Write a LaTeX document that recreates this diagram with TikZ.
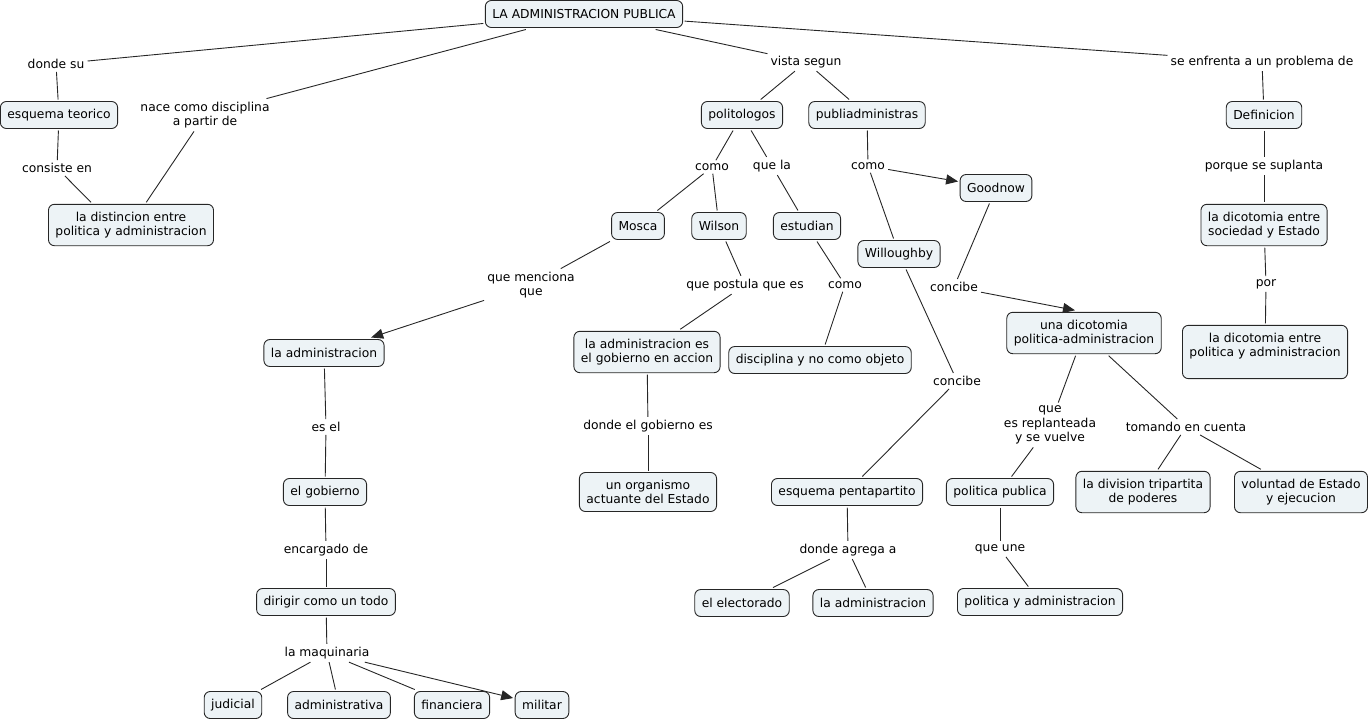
\documentclass[tikz,border=0pt]{standalone}
\usepackage{fontspec}
\setmainfont{DejaVu Sans}
\usetikzlibrary{arrows.meta}
\definecolor{cmapfill}{RGB}{237,243,246}
\tikzstyle{concept} = [draw=black!85, line width=0.9pt, fill=cmapfill, rounded corners=6pt, align=center, inner xsep=7pt, inner ysep=7.5pt, outer sep=2pt, minimum height=27pt]
\tikzstyle{link} = [align=center, inner sep=3pt]
\tikzstyle{conn} = [draw=black!85, line width=0.9pt]
\tikzstyle{arrowline} = [conn, -{Triangle[length=12pt,width=10pt]}]

\begin{document}
\begin{tikzpicture}[x=1pt, y=-1pt, font=\fontsize{12.3pt}{14.5pt}\selectfont]
    \useasboundingbox (0,0) rectangle (1370,721);
    % top row
    \node[concept] (lap) at (584,14) {LA ADMINISTRACION PUBLICA};
    \node[link] (dondesu) at (56,64) {donde su};
    \node[link] (nace) at (205,115) {nace como disciplina\\a partir de};
    \node[link] (vista) at (806,62) {vista segun};
    \node[link] (enfrenta) at (1262,62) {se enfrenta a un problema de};
    \node[concept] (esquema) at (59,115) {esquema teorico};
    \node[link] (consiste) at (57,168) {consiste en};
    \node[concept] (distincion) at (131,225) {la distincion entre\\politica y administracion};
    \node[concept] (polito) at (742,115) {politologos};
    \node[concept] (publi) at (867,115) {publiadministras};
    \node[concept] (defin) at (1264,115) {Definicion};
    \node[link] (como1) at (712,167) {como};
    \node[link] (quela) at (772,166) {que la};
    \node[link] (como2) at (868,166) {como};
    \node[link] (porque) at (1264,166) {porque se suplanta};
    % authors
    \node[concept] (mosca) at (638,226) {Mosca};
    \node[concept] (wilson) at (719,226) {Wilson};
    \node[concept] (estudian) at (807,226) {estudian};
    \node[concept] (goodnow) at (996,188) {Goodnow};
    \node[concept] (willo) at (899,254) {Willoughby};
    \node[concept] (dicsoc) at (1264,225) {la dicotomia entre\\sociedad y Estado};
    \node[link] (menciona) at (531,285) {que menciona\\que};
    \node[link] (postula) at (745,285) {que postula que es};
    \node[link] (como3) at (845,285) {como};
    \node[link] (concibe1) at (954,287) {concibe};
    \node[link] (por) at (1266,284) {por};
    \node[concept] (admin1) at (324,353) {la administracion};
    \node[concept] (accion) at (647,352) {la administracion es\\el gobierno en accion};
    \node[concept] (discip) at (820,360) {disciplina y no como objeto};
    \node[concept] (dicpol) at (1084,333) {una dicotomia\\politica-administracion};
    \node[concept] (dicright) at (1265,352) {la dicotomia entre\\politica y administracion\\~};
    \node[link] (concibe2) at (957,381) {concibe};
    \node[link] (esel) at (326,427) {es el};
    \node[link] (dondegob) at (648,426) {donde el gobierno es};
    \node[link] (replan) at (1050,425) {que\\es replanteada\\y se vuelve};
    \node[link] (tomando) at (1186,427) {tomando en cuenta};
    % lower rows
    \node[concept] (gobierno) at (325,492) {el gobierno};
    \node[concept] (organismo) at (648,492) {un organismo\\actuante del Estado};
    \node[concept] (penta) at (847,492) {esquema pentapartito};
    \node[concept] (polpub) at (1000,492) {politica publica};
    \node[concept] (tripart) at (1143,492) {la division tripartita\\de poderes};
    \node[concept] (voluntad) at (1301,492) {voluntad de Estado\\y ejecucion};
    \node[link] (encargado) at (326,550) {encargado de};
    \node[link] (agrega) at (848,550) {donde agrega a};
    \node[link] (une) at (1000,549) {que une};
    \node[concept] (dirigir) at (326,602) {dirigir como un todo};
    \node[concept] (electorado) at (742,603) {el electorado};
    \node[concept] (admin2) at (873,603) {la administracion};
    \node[concept] (polyadm) at (1040,602) {politica y administracion};
    \node[link] (maquinaria) at (327,653) {la maquinaria};
    \node[concept] (judicial) at (233,705) {judicial};
    \node[concept] (administrativa) at (339,705) {administrativa};
    \node[concept] (financiera) at (452,705) {financiera};
    \node[concept] (militar) at (542,705) {militar};
    % plain connectors
    \foreach \a/\b in {lap/dondesu, dondesu/esquema, esquema/consiste,
        lap/nace, nace/distincion, lap/vista, vista/polito, vista/publi,
        lap/enfrenta, enfrenta/defin, defin/porque, porque/dicsoc, dicsoc/por, por/dicright,
        polito/como1, como1/mosca, como1/wilson, polito/quela, quela/estudian,
        estudian/como3, como3/discip, publi/como2, como2/willo, mosca/menciona,
        wilson/postula, postula/accion, accion/dondegob, dondegob/organismo,
        goodnow/concibe1, willo/concibe2, concibe2/penta, penta/agrega,
        agrega/electorado, agrega/admin2, dicpol/replan, replan/polpub, polpub/une,
        une/polyadm, dicpol/tomando, tomando/tripart, tomando/voluntad,
        admin1/esel, esel/gobierno, gobierno/encargado, encargado/dirigir,
        dirigir/maquinaria, maquinaria/judicial, maquinaria/administrativa,
        maquinaria/financiera}
        \draw[conn] (\a) -- (\b);
    \draw[conn] (consiste) -- ([xshift=-40pt]distincion.north);
    % arrows
    \draw[arrowline] (como2) -- (goodnow);
    \draw[arrowline] (menciona) -- (admin1);
    \draw[arrowline] (concibe1) -- ([xshift=-9pt]dicpol.north);
    \draw[arrowline] (maquinaria) -- (militar);
\end{tikzpicture}
\end{document}
